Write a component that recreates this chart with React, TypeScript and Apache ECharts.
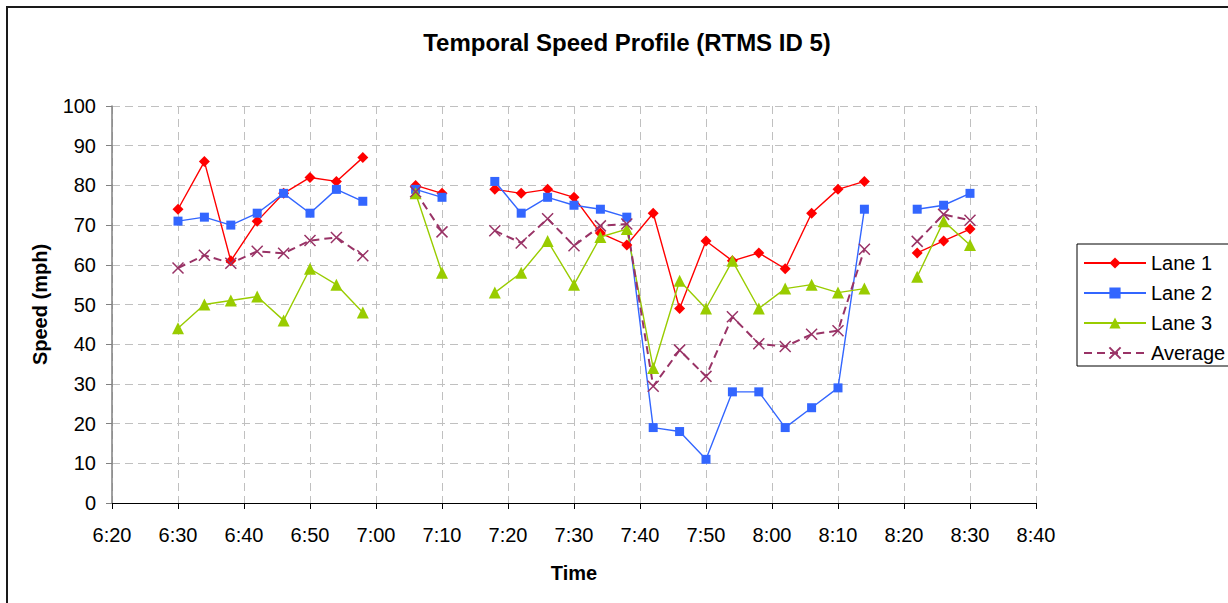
import React, { useEffect, useRef } from "react";
import * as echarts from "echarts";

const times = [
  "6:30", "6:34", "6:38", "6:42", "6:46", "6:50", "6:54", "6:58", "7:02", "7:06",
  "7:10", "7:14", "7:18", "7:22", "7:26", "7:30", "7:34", "7:38", "7:42", "7:46",
  "7:50", "7:54", "7:58", "8:02", "8:06", "8:10", "8:14", "8:18", "8:22", "8:26", "8:30",
];

const lane1 = [74, 86, 61, 71, 78, 82, 81, 87, null, 80, 78, null, 79, 78, 79, 77, 68, 65, 73, 49, 66, 61, 63, 59, 73, 79, 81, null, 63, 66, 69];
const lane2 = [71, 72, 70, 73, 78, 73, 79, 76, null, 79, 77, null, 81, 73, 77, 75, 74, 72, 19, 18, 11, 28, 28, 19, 24, 29, 74, null, 74, 75, 78];
const lane3 = [44, 50, 51, 52, 46, 59, 55, 48, null, 78, 58, null, 53, 58, 66, 55, 67, 69, 34, 56, 49, 61, 49, 54, 55, 53, 54, null, 57, 71, 65];
const average = [59.2, 62.4, 60.4, 63.4, 62.9, 66.1, 66.9, 62.3, null, 78.4, 68.3, null, 68.6, 65.5, 71.6, 64.8, 69.8, 70.3, 29.4, 38.5, 31.9, 46.9, 40.1, 39.4, 42.5, 43.4, 63.9, null, 65.9, 72.7, 71.2];

const xMinLabel = "6:20";
const xMaxLabel = "8:40";

const toMin = (s: string) => {
  const [h, m] = s.split(":").map(Number);
  return h * 60 + m;
};
const fmt = (v: number) => {
  const h = Math.floor(v / 60);
  const m = v % 60;
  return `${h}:${m < 10 ? "0" + m : m}`;
};
const pairs = (vals: (number | null)[]) =>
  times.map((t, i) => [toMin(t), vals[i] === null ? "-" : vals[i]]);

const FONT = "Liberation Sans, Arial, sans-serif";

export default function App() {
  const ref = useRef<HTMLDivElement>(null);
  useEffect(() => {
    document.body.style.margin = "0";
    const chart = echarts.init(ref.current!, null, { renderer: "svg" });
    const mk = (name: string, data: (number | null)[], color: string, symbol: string, size: number, extra: any = {}) => ({
      name,
      type: "line",
      data: pairs(data),
      connectNulls: false,
      symbol,
      symbolSize: size,
      lineStyle: { color, width: 1.4, ...(extra.lineStyle || {}) },
      itemStyle: { color, ...(extra.itemStyle || {}) },
      emphasis: { disabled: true },
    });
    chart.setOption({
      animation: false,
      textStyle: { fontFamily: FONT },
      title: {
        text: "Temporal Speed Profile (RTMS ID 5)",
        left: 622,
        textAlign: "center",
        top: 25,
        textStyle: { fontSize: 24, fontWeight: "bold", color: "#000", fontFamily: FONT },
      },
      graphic: [
        {
          type: "rect",
          shape: { x: 7, y: 7, width: 1300, height: 700 },
          style: { fill: "none", stroke: "#1a1a1a", lineWidth: 2 },
          silent: true,
        },
      ],
      legend: {
        orient: "vertical",
        left: 1077,
        top: 244,
        padding: [9, 40, 3, 6],
        itemGap: 10,
        itemWidth: 62,
        itemHeight: 14,
        borderColor: "#000",
        borderWidth: 1,
        textStyle: { fontSize: 20, color: "#000", fontFamily: FONT },
        data: ["Lane 1", "Lane 2", "Lane 3", "Average"],
      },
      grid: { left: 112, right: 192, top: 106, bottom: 100 },
      xAxis: {
        type: "value",
        min: toMin(xMinLabel),
        max: toMin(xMaxLabel),
        interval: 10,
        name: "Time",
        nameLocation: "middle",
        nameGap: 60,
        nameTextStyle: { fontSize: 20, fontWeight: "bold", color: "#000", fontFamily: FONT },
        axisLine: { lineStyle: { color: "#000", width: 1 } },
        axisTick: { length: 6, lineStyle: { color: "#000" } },
        axisLabel: { formatter: (v: number) => fmt(v), fontSize: 20, color: "#000", margin: 22, fontFamily: FONT },
        splitLine: { show: true, lineStyle: { color: "#c0c0c0", type: [8, 5], width: 1 } },
      },
      yAxis: {
        type: "value",
        min: 0,
        max: 100,
        interval: 10,
        name: "Speed (mph)",
        nameLocation: "middle",
        nameGap: 62,
        nameTextStyle: { fontSize: 20, fontWeight: "bold", color: "#000", fontFamily: FONT },
        axisLine: { show: true, lineStyle: { color: "#808080", width: 1.5 } },
        axisTick: { show: true, length: 6, lineStyle: { color: "#808080" } },
        axisLabel: { fontSize: 20, color: "#000", margin: 16, fontFamily: FONT },
        splitLine: { show: true, lineStyle: { color: "#c0c0c0", type: [8, 5], width: 1 } },
      },
      series: [
        mk("Lane 1", lane1, "#FF0000", "diamond", 11),
        mk("Lane 2", lane2, "#3366FF", "rect", 9),
        mk("Lane 3", lane3, "#99CC00", "triangle", 12),
        mk("Average", average, "#993366", "path://M0,0L10,10M10,0L0,10", 11, {
          lineStyle: { type: [8, 5], width: 2 },
          itemStyle: { color: "#993366", borderColor: "#993366", borderWidth: 1.5 },
        }),
      ],
    });
    return () => chart.dispose();
  }, []);
  return <div ref={ref} style={{ width: 1228, height: 603 }} />;
}
